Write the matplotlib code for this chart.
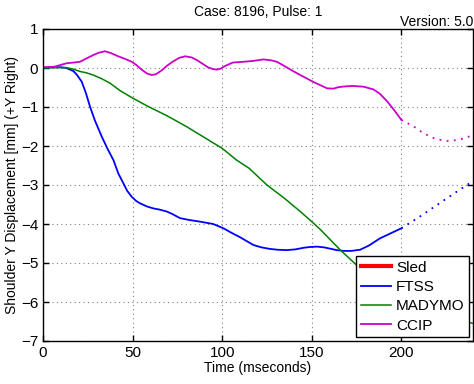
import matplotlib
matplotlib.use("Agg")
import matplotlib.pyplot as plt

plt.rcParams['font.family'] = ['Liberation Sans', 'DejaVu Sans']

# FTSS (blue)
ftss_t = [0, 5, 10, 13, 15, 17, 19, 21.6, 24, 26.3, 29, 32.8, 36, 39.3, 42, 44.9, 47, 49.5, 52, 54.2, 58,
          61.6, 65, 69.1, 72, 76.5, 82, 87.7, 95, 100.7, 105, 110, 117.5, 122, 126.8, 131, 136, 141, 145.4,
          149, 153, 157, 160, 164, 167.8, 172, 177, 182, 188, 194, 200]
ftss_y = [0, 0.02, 0.02, 0, -0.04, -0.08, -0.18, -0.35, -0.65, -1.0, -1.35, -1.76, -2.07, -2.36, -2.7,
          -2.96, -3.15, -3.3, -3.41, -3.47, -3.55, -3.6, -3.63, -3.68, -3.74, -3.85, -3.9, -3.94, -4.0,
          -4.11, -4.22, -4.34, -4.54, -4.6, -4.64, -4.66, -4.67, -4.65, -4.61, -4.59, -4.58, -4.6, -4.63,
          -4.67, -4.69, -4.69, -4.66, -4.55, -4.37, -4.24, -4.11]
ftss_ext_t = [200, 210, 220, 230, 240]
ftss_ext_y = [-4.11, -3.82, -3.51, -3.2, -2.9]

# MADYMO (green)
mad_t = [0, 8, 13, 17, 20.7, 24, 28, 33, 37.4, 43, 50, 58, 69, 80, 90, 100, 108, 115, 125, 135, 143.6,
         151, 155, 166, 178, 190, 200, 220, 240]
mad_y = [0, 0.01, 0.01, -0.03, -0.09, -0.12, -0.18, -0.28, -0.39, -0.58, -0.77, -0.97, -1.22, -1.5,
         -1.78, -2.06, -2.36, -2.57, -3.0, -3.35, -3.68, -3.98, -4.15, -4.67, -5.18, -5.6, -5.9, -6.3, -6.55]

# CCIP (magenta)
ccip_t = [0, 6, 10, 13, 17, 20.7, 24, 28, 31, 34.6, 38, 42, 46, 49.5, 52, 55, 58, 60.7, 63, 66, 69, 72,
          76, 79.3, 83, 86, 89, 92, 95, 97, 99, 102, 106, 112, 117, 120, 123, 127, 130.5, 134, 137, 140,
          143.6, 151, 158.5, 162, 165, 169, 173, 179, 184.5, 188, 192, 196, 200]
ccip_y = [0.02, 0.03, 0.08, 0.12, 0.14, 0.16, 0.24, 0.33, 0.39, 0.43, 0.38, 0.3, 0.23, 0.16, 0.08, -0.04,
          -0.14, -0.18, -0.16, -0.07, 0.05, 0.15, 0.26, 0.3, 0.27, 0.2, 0.11, 0.02, -0.03, -0.04, -0.02,
          0.06, 0.14, 0.16, 0.18, 0.2, 0.22, 0.2, 0.16, 0.07, -0.01, -0.09, -0.18, -0.36, -0.52, -0.53,
          -0.49, -0.47, -0.46, -0.48, -0.55, -0.66, -0.85, -1.08, -1.33]
ccip_ext_t = [200, 206.9, 211, 216, 220, 225.5, 229, 233, 237, 240]
ccip_ext_y = [-1.33, -1.5, -1.63, -1.76, -1.83, -1.87, -1.86, -1.83, -1.77, -1.72]

x_ticks = [0, 50, 100, 150, 200]
y_ticks = [1, 0, -1, -2, -3, -4, -5, -6, -7]

fig = plt.figure(figsize=(4.74, 3.84), dpi=100)
ax = fig.add_axes([43/474, 1-341/384, 430/474, (341-29)/384])

ax.plot([], [], color='red', lw=3, label='Sled')
ax.plot(ftss_t, ftss_y, color='#0000ff', lw=1.3, label='FTSS')
ax.plot(ftss_ext_t, ftss_ext_y, color='#0000ff', lw=1.3, ls=(0, (1, 3)))
ax.plot(mad_t, mad_y, color='#008000', lw=1.1, label='MADYMO')
ax.plot(ccip_t, ccip_y, color='#cc00cc', lw=1.3, label='CCIP')
ax.plot(ccip_ext_t, ccip_ext_y, color='#cc00cc', lw=1.3, ls=(0, (1, 3)))

ax.set_xlim(0, 240)
ax.set_ylim(-7, 1)
ax.set_xticks(x_ticks)
ax.set_yticks(y_ticks)
ax.tick_params(direction='in', labelsize=11, length=4, width=1, top=True, right=True)
ax.grid(True, color='#808080', ls=(0, (1, 3)), lw=0.8)
for s in ax.spines.values():
    s.set_linewidth(1.0)

ax.set_xlabel('Time (mseconds)', fontsize=10, labelpad=1)
ax.set_ylabel('Shoulder Y Displacement [mm] (+Y Right)', fontsize=10, labelpad=1)
fig.text(0.5 * (43 + 473) / 474, 1 - 12/384, 'Case: 8196, Pulse: 1', ha='center', va='center', fontsize=10)
fig.text(473/474, 1 - 22/384, 'Version: 5.0', ha='right', va='center', fontsize=10)

leg = ax.legend(loc='lower right', fontsize=11, frameon=True, fancybox=False, framealpha=1,
                edgecolor='black', borderaxespad=0.25, handlelength=2.0, labelspacing=0.35,
                handletextpad=0.3, borderpad=0.3)
leg.get_frame().set_linewidth(1.0)

fig.savefig('out.png', dpi=100)
